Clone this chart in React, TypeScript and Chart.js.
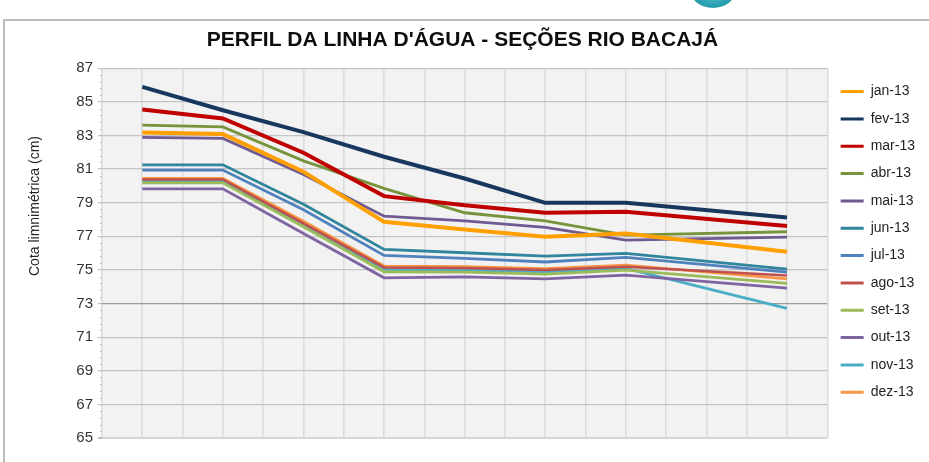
import React, { useEffect, useRef } from "react";
import { Chart, registerables } from "chart.js";

Chart.register(...registerables);

const TITLE = "PERFIL DA LINHA D'ÁGUA - SEÇÕES RIO BACAJÁ";
const Y_TITLE = "Cota limnimétrica (cm)";
const SECTIONS = [1, 3, 5, 7, 9, 11, 13, 17];
const Y_TICKS = [65, 67, 69, 71, 73, 75, 77, 79, 81, 83, 85, 87];
const MONTHS = ["jan-13", "fev-13", "mar-13", "abr-13", "mai-13", "jun-13", "jul-13", "ago-13", "set-13", "out-13", "nov-13", "dez-13"];

const JAN = [83.18, 83.08, 80.84, 77.86, 77.41, 76.97, 77.17, 76.08];
const FEV = [85.89, 84.5, 83.2, 81.73, 80.44, 78.99, 78.99, 78.12];
const MAR = [84.54, 84.01, 81.97, 79.39, 78.85, 78.4, 78.46, 77.61];
const ABR = [83.61, 83.51, 81.49, 79.85, 78.4, 77.92, 77.07, 77.27];
const MAI = [82.88, 82.82, 80.68, 78.2, 77.92, 77.53, 76.77, 76.95];
const JUN = [81.25, 81.25, 78.9, 76.22, 76.02, 75.82, 75.98, 75.05];
const JUL = [80.94, 80.94, 78.58, 75.86, 75.69, 75.47, 75.75, 74.87];
const AGO = [80.38, 80.38, 77.77, 75.15, 75.11, 74.99, 75.19, 74.67];
const SET = [80.18, 80.18, 77.57, 74.89, 74.87, 74.75, 74.99, 74.2];
const OUT = [79.82, 79.82, 77.17, 74.53, 74.59, 74.47, 74.69, 73.92];
const NOV = [80.3, 80.3, 77.67, 75.03, 74.99, 74.89, 75.09, 72.71];
const DEZ = [80.44, 80.44, 77.9, 75.23, 75.19, 75.07, 75.29, 74.47];

const SERIES = [JAN, FEV, MAR, ABR, MAI, JUN, JUL, AGO, SET, OUT, NOV, DEZ];
const COLORS = ["#ffa000", "#17375e", "#c00000", "#77933c", "#705a92", "#31859c", "#4f81bd", "#c0504d", "#9bbb59", "#8064a2", "#4bacc6", "#f79646"];
const WIDTHS = [4, 4, 4, 2.8, 2.8, 2.8, 2.8, 2.5, 2.8, 2.8, 2.8, 2.8];

const FONT = "'Liberation Sans', Arial, sans-serif";

const isMajor = (v: number) => Y_TICKS.some((t) => Math.abs(t - v) < 1e-6);

const extrasPlugin = {
  id: "extras",
  beforeDraw(chart: any) {
    const { ctx, chartArea } = chart;
    ctx.save();
    ctx.fillStyle = "#f2f2f2";
    ctx.fillRect(chartArea.left, chartArea.top, chartArea.right - chartArea.left, chartArea.bottom - chartArea.top);
    ctx.restore();
  },
  afterDraw(chart: any) {
    const { ctx, chartArea } = chart;
    const y = chart.scales.y;
    ctx.save();
    ctx.strokeStyle = "#bfbfbf";
    ctx.lineWidth = 1;
    y.ticks.forEach((t: any) => {
      if (!isMajor(t.value)) {
        const py = Math.round(y.getPixelForValue(t.value)) + 0.5;
        ctx.beginPath();
        ctx.moveTo(chartArea.left - 2, py);
        ctx.lineTo(chartArea.left, py);
        ctx.stroke();
      }
    });
    ctx.translate(35, 206);
    ctx.rotate(-Math.PI / 2);
    ctx.fillStyle = "#262626";
    ctx.font = "14px " + FONT;
    ctx.textAlign = "center";
    ctx.textBaseline = "middle";
    ctx.fillText(Y_TITLE, 0, 0);
    ctx.restore();
  },
};

export default function App() {
  const ref = useRef<HTMLCanvasElement | null>(null);
  useEffect(() => {
    if (!ref.current) return;
    const datasets = SERIES.map((vals, i) => ({
      label: MONTHS[i],
      data: vals.map((v, j) => ({ x: SECTIONS[j], y: v })),
      borderColor: COLORS[i],
      backgroundColor: COLORS[i],
      borderWidth: WIDTHS[i],
      pointRadius: 0,
      pointHoverRadius: 0,
      tension: 0,
      fill: false,
    }));
    const chart = new Chart(ref.current, {
      type: "line",
      data: { datasets },
      plugins: [extrasPlugin],
      options: {
        animation: false,
        responsive: false,
        devicePixelRatio: 1,
        layout: { padding: { left: 0, right: 4, top: 0, bottom: 24 } },
        plugins: {
          tooltip: { enabled: false },
          title: {
            display: true,
            text: TITLE,
            color: "#0d0d0d",
            font: { family: FONT, size: 21, weight: "bold", lineHeight: 1.2 },
            padding: { top: 28, bottom: 15 },
          },
          legend: {
            display: true,
            position: "right",
            align: "start",
            fullSize: false,
            title: { display: true, text: "", font: { size: 1, lineHeight: 1 }, padding: { top: 1, bottom: 1 } },
            labels: {
              font: { family: FONT, size: 14 },
              color: "#1f1f1f",
              boxWidth: 23,
              boxHeight: 3,
              padding: 13.34,
              generateLabels: (c: any) =>
                Chart.defaults.plugins.legend.labels.generateLabels(c).map((it: any) => ({ ...it, lineWidth: 0 })),
            },
          },
        },
        scales: {
          x: {
            type: "linear",
            min: 0,
            max: 18,
            ticks: { display: false, stepSize: 1 },
            grid: { color: "#dcdcdc", lineWidth: 1.6, drawTicks: false },
            border: { display: false },
            afterFit: (s: any) => {
              s.height = 0;
            },
          },
          y: {
            type: "linear",
            min: 65,
            max: 87,
            ticks: {
              stepSize: 0.4,
              autoSkip: false,
              padding: 5,
              color: "#333333",
              font: { family: FONT, size: 15 },
              callback: (v: any) => (isMajor(Number(v)) ? String(Math.round(Number(v))) : ""),
            },
            grid: {
              tickLength: 4,
              color: (c: any) => {
                const v = c.tick ? c.tick.value : 0;
                if (Math.abs(v - 73) < 1e-6) return "#9c9c9c";
                if (Math.abs(v - 65) < 1e-6) return "#d6d6d6";
                return isMajor(v) ? "#c4c4c4" : "rgba(0,0,0,0)";
              },
              lineWidth: (c: any) => {
                const v = c.tick ? c.tick.value : 0;
                if (Math.abs(v - 65) < 1e-6) return 2;
                return 1.2;
              },
              tickColor: (c: any) => {
                const v = c.tick ? c.tick.value : 0;
                return isMajor(v) ? "#bfbfbf" : "rgba(0,0,0,0)";
              },
            },
            border: { display: false },
            afterFit: (s: any) => {
              s.width = 102;
            },
          },
        },
      },
    } as any);
    return () => chart.destroy();
  }, []);

  return (
    <div style={{ position: "absolute", left: 0, top: 0, width: 929, height: 462, background: "#ffffff", overflow: "hidden" }}>
      <div
        style={{
          position: "absolute",
          left: 690,
          top: -30,
          width: 46,
          height: 38,
          borderRadius: "50%",
          background: "radial-gradient(circle at 50% 40%, #7fd3dc 0%, #2aa3b3 60%, #1b8d9d 100%)",
        }}
      />
      <div
        style={{
          position: "absolute",
          left: 3,
          top: 19,
          width: 940,
          height: 460,
          borderLeft: "2px solid #bdbdbd",
          borderTop: "2px solid #bdbdbd",
        }}
      />
      <canvas ref={ref} width={929} height={462} style={{ position: "absolute", left: 0, top: 0, width: 929, height: 462 }} />
    </div>
  );
}
